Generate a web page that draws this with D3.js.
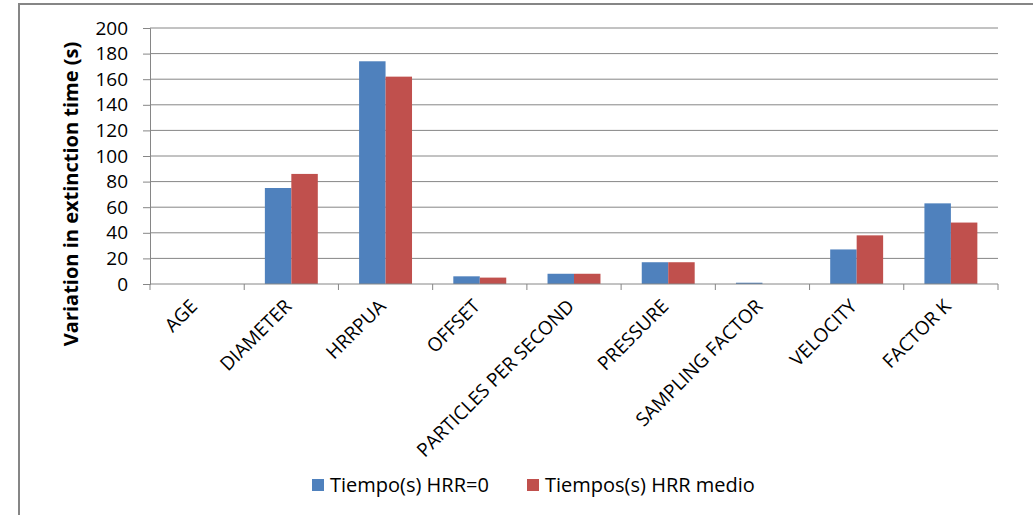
<!DOCTYPE html>
<html>
<head>
<meta charset="utf-8">
<script src="https://cdn.jsdelivr.net/npm/d3@7"></script>
<style>
  body { margin: 0; background: #fff; }
  svg { display: block; font-family: "Open Sans", sans-serif; }
</style>
</head>
<body>
<svg id="chart" width="1033" height="515"></svg>
<script>
const categories = ['AGE', 'DIAMETER', 'HRRPUA', 'OFFSET', 'PARTICLES PER SECOND', 'PRESSURE', 'SAMPLING FACTOR', 'VELOCITY', 'FACTOR K'];
const seriesNames = ['Tiempo(s) HRR=0', 'Tiempos(s) HRR medio'];
const hrr0 = [0, 75, 174, 6, 8, 17, 1, 27, 63];
const hrrMedio = [0, 86, 162, 5, 8, 17, 0, 38, 48];
const yTicks = [0, 20, 40, 60, 80, 100, 120, 140, 160, 180, 200];
const colors = ['#4F81BD', '#C0504D'];

const svg = d3.select('#chart');
const plotLeft = 150, plotRight = 998, plotTop = 28, plotBottom = 284;

// outer frame (only top & left visible)
svg.append('path')
  .attr('d', 'M19,515 V4 H1033')
  .attr('fill', 'none')
  .attr('stroke', '#868686')
  .attr('stroke-width', 2);

const x0 = d3.scaleBand().domain(categories).range([plotLeft, plotRight]).padding(0);
const x1 = d3.scaleBand().domain([0, 1]).range([0, x0.bandwidth()]).paddingInner(0).paddingOuter(0.78);
const y = d3.scaleLinear().domain([0, 200]).range([plotBottom, plotTop]);

// gridlines
svg.append('g')
  .selectAll('line')
  .data(yTicks.filter(d => d > 0))
  .join('line')
  .attr('x1', plotLeft).attr('x2', plotRight)
  .attr('y1', d => y(d)).attr('y2', d => y(d))
  .attr('stroke', '#868686').attr('stroke-width', 1);

// bars
const rows = categories.map((c, i) => ({ cat: c, vals: [hrr0[i], hrrMedio[i]] }));
svg.append('g')
  .selectAll('g')
  .data(rows)
  .join('g')
  .attr('transform', d => `translate(${x0(d.cat)},0)`)
  .selectAll('rect')
  .data(d => d.vals.map((v, k) => ({ k, v })))
  .join('rect')
  .attr('x', d => x1(d.k))
  .attr('width', x1.bandwidth())
  .attr('y', d => y(d.v))
  .attr('height', d => y(0) - y(d.v))
  .attr('fill', d => colors[d.k]);

// y axis
const yAxis = svg.append('g')
  .attr('transform', `translate(${plotLeft},0)`)
  .call(d3.axisLeft(y).tickValues(yTicks).tickSize(7).tickPadding(15));
yAxis.select('.domain').attr('stroke', '#868686');
yAxis.selectAll('.tick line').attr('stroke', '#868686');
yAxis.selectAll('.tick text')
  .attr('font-size', 19)
  .attr('font-family', '"Open Sans", sans-serif')
  .attr('fill', '#000');

// x axis: ticks at category boundaries
const xg = svg.append('g');
xg.append('line')
  .attr('x1', plotLeft).attr('x2', plotRight)
  .attr('y1', plotBottom).attr('y2', plotBottom)
  .attr('stroke', '#868686');
xg.selectAll('line.tk')
  .data(categories.map(c => x0(c)).concat([plotRight]))
  .join('line')
  .attr('class', 'tk')
  .attr('x1', d => d).attr('x2', d => d)
  .attr('y1', plotBottom).attr('y2', plotBottom + 6)
  .attr('stroke', '#868686');
xg.selectAll('text')
  .data(categories)
  .join('text')
  .attr('transform', d => `translate(${x0(d) + x0.bandwidth() / 2 - 8},${plotBottom + 14}) rotate(-45)`)
  .attr('text-anchor', 'end')
  .attr('dy', '0.7em')
  .attr('font-size', 19)
  .attr('fill', '#000')
  .text(d => d);

// y title
svg.append('text')
  .attr('transform', 'translate(78,194) rotate(-90)')
  .attr('text-anchor', 'middle')
  .attr('font-size', 20)
  .attr('font-weight', 'bold')
  .attr('fill', '#000')
  .text('Variation in extinction time (s)');

// legend
const legendX = [312, 527];
const lg = svg.append('g');
seriesNames.forEach((name, i) => {
  lg.append('rect')
    .attr('x', legendX[i]).attr('y', 479)
    .attr('width', 12).attr('height', 12)
    .attr('fill', colors[i]);
  lg.append('text')
    .attr('x', legendX[i] + 18).attr('y', 492)
    .attr('font-size', 20)
    .attr('fill', '#000')
    .text(name);
});
</script>
</body>
</html>
